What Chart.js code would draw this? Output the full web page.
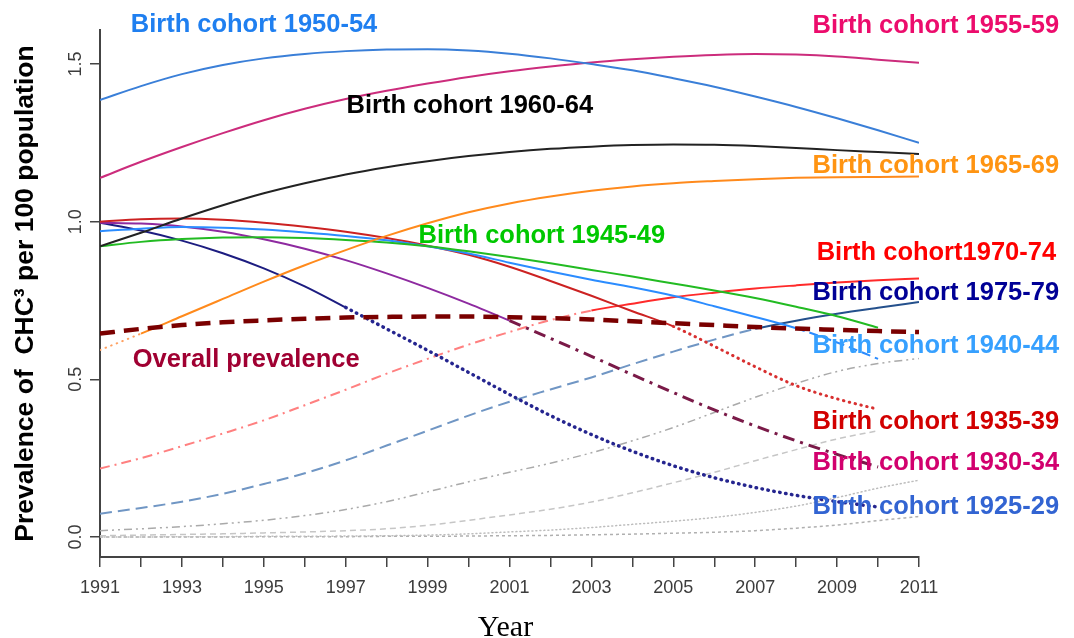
<!DOCTYPE html>
<html>
<head>
<meta charset="utf-8">
<script src="https://cdn.jsdelivr.net/npm/chart.js@4"></script>
<style>
  html, body { margin: 0; padding: 0; background: #fff; }
</style>
</head>
<body>
<canvas id="prevChart" width="1074" height="638"></canvas>
<script>
// years on the x axis
var years = [1991, 1992, 1993, 1994, 1995, 1996, 1997, 1998, 1999, 2000, 2001,
             2002, 2003, 2004, 2005, 2006, 2007, 2008, 2009, 2010, 2011];
var yTicks = [0, 0.5, 1.0, 1.5];

// prevalence per 100 population
var overall    = [0.645, 0.660, 0.672, 0.681, 0.687, 0.692, 0.696, 0.698, 0.699, 0.699, 0.697, 0.694, 0.690, 0.684, 0.678, 0.672, 0.666, 0.661, 0.657, 0.653, 0.650];
var cohort1950 = [1.386, 1.430, 1.468, 1.497, 1.518, 1.532, 1.541, 1.546, 1.547, 1.543, 1.533, 1.518, 1.500, 1.480, 1.455, 1.428, 1.397, 1.364, 1.328, 1.290, 1.250];
var cohort1955 = [1.139, 1.190, 1.237, 1.281, 1.322, 1.358, 1.389, 1.415, 1.438, 1.459, 1.477, 1.492, 1.505, 1.515, 1.523, 1.529, 1.532, 1.530, 1.524, 1.514, 1.504];
var cohort1960 = [0.922, 0.965, 1.010, 1.052, 1.090, 1.122, 1.150, 1.173, 1.192, 1.208, 1.221, 1.231, 1.238, 1.243, 1.245, 1.244, 1.240, 1.234, 1.227, 1.221, 1.215];
var cohort1965 = [0.593, 0.645, 0.700, 0.755, 0.810, 0.862, 0.910, 0.955, 0.995, 1.030, 1.058, 1.080, 1.098, 1.112, 1.122, 1.129, 1.135, 1.139, 1.141, 1.142, 1.143];
var cohort1945 = [0.922, 0.936, 0.945, 0.950, 0.951, 0.948, 0.942, 0.934, 0.922, 0.906, 0.888, 0.868, 0.847, 0.826, 0.804, 0.782, 0.758, 0.730, 0.700, 0.664, null];
var cohort1940 = [0.970, 0.978, 0.983, 0.981, 0.975, 0.966, 0.955, 0.941, 0.922, 0.899, 0.870, 0.842, 0.816, 0.792, 0.765, 0.732, 0.698, 0.662, 0.617, 0.565, null];
var cohort1935 = [1.000, 1.008, 1.010, 1.006, 0.997, 0.984, 0.968, 0.948, 0.924, 0.895, 0.857, 0.812, 0.765, 0.716, 0.668, 0.605, 0.540, 0.480, 0.438, 0.405, null];
var cohort1930 = [0.997, 0.994, 0.985, 0.968, 0.944, 0.914, 0.878, 0.836, 0.790, 0.740, 0.686, 0.630, 0.573, 0.515, 0.458, 0.403, 0.352, 0.305, 0.262, 0.222, null];
var cohort1925 = [0.997, 0.972, 0.940, 0.900, 0.852, 0.795, 0.728, 0.660, 0.592, 0.522, 0.452, 0.385, 0.325, 0.272, 0.226, 0.188, 0.157, 0.132, 0.112, 0.095, null];
var cohort1970 = [0.217, 0.250, 0.288, 0.328, 0.370, 0.418, 0.467, 0.518, 0.565, 0.610, 0.650, 0.688, 0.718, 0.740, 0.760, 0.775, 0.788, 0.798, 0.807, 0.814, 0.820];
var cohort1975 = [0.074, 0.092, 0.112, 0.137, 0.168, 0.202, 0.243, 0.290, 0.337, 0.385, 0.429, 0.468, 0.506, 0.548, 0.588, 0.626, 0.660, 0.686, 0.708, 0.727, 0.745];
var cohortG1   = [0.020, 0.026, 0.033, 0.042, 0.053, 0.068, 0.087, 0.112, 0.143, 0.175, 0.205, 0.234, 0.267, 0.305, 0.347, 0.395, 0.443, 0.487, 0.525, 0.550, 0.566];
var cohortG2   = [0.004, 0.006, 0.008, 0.010, 0.013, 0.016, 0.020, 0.026, 0.037, 0.053, 0.070, 0.088, 0.111, 0.140, 0.172, 0.205, 0.242, 0.277, 0.311, 0.337, null];
var cohortG3   = [0.000, 0.000, 0.001, 0.001, 0.002, 0.002, 0.003, 0.004, 0.006, 0.010, 0.016, 0.022, 0.030, 0.040, 0.050, 0.062, 0.078, 0.098, 0.125, 0.155, 0.180];
var cohortG4   = [0.000, 0.000, 0.000, 0.000, 0.001, 0.001, 0.001, 0.002, 0.002, 0.003, 0.004, 0.005, 0.007, 0.009, 0.012, 0.015, 0.020, 0.028, 0.038, 0.052, 0.065];

// text annotations, placed in data units
var notes = [
  { text: 'Birth cohort 1950-54', x: 1991.75, y: 1.602, color: '#1f7ff0' },
  { text: 'Birth cohort 1955-59', x: 2008.40, y: 1.599, color: '#ec0c6c' },
  { text: 'Birth cohort 1960-64', x: 1997.02, y: 1.345, color: '#000000' },
  { text: 'Birth cohort 1965-69', x: 2008.40, y: 1.153, color: '#ff9412' },
  { text: 'Birth cohort 1945-49', x: 1998.78, y: 0.931, color: '#00c800' },
  { text: 'Birth cohort1970-74',  x: 2008.50, y: 0.878, color: '#ff0000' },
  { text: 'Birth cohort 1975-79', x: 2008.40, y: 0.751, color: '#000096' },
  { text: 'Birth cohort 1940-44', x: 2008.40, y: 0.582, color: '#36a0ff' },
  { text: 'Birth cohort 1935-39', x: 2008.40, y: 0.344, color: '#d20000' },
  { text: 'Birth cohort 1930-34', x: 2008.40, y: 0.214, color: '#d2006e' },
  { text: 'Birth cohort 1925-29', x: 2008.40, y: 0.072, color: '#3264d2' },
  { text: 'Overall prevalence',   x: 1991.80, y: 0.540, color: '#a00032' }
];

function pts(arr) {
  return years.map(function (yr, i) { return { x: yr, y: arr[i] }; });
}

var DOT = [0.5, 5.5];

// a series that changes style at index k
function series(arr, w, a, b, k) {
  var ds = {
    data: pts(arr),
    borderColor: a.color,
    borderWidth: w,
    borderDash: a.dash || [],
    borderCapStyle: a.cap || 'butt',
    pointRadius: 0,
    fill: false,
    cubicInterpolationMode: 'monotone',
    spanGaps: false
  };
  if (b) {
    ds.segment = {
      borderColor: function (c) { return c.p0DataIndex >= k ? b.color : a.color; },
      borderDash: function (c) { return c.p0DataIndex >= k ? (b.dash || []) : (a.dash || []); },
      borderCapStyle: function (c) { return c.p0DataIndex >= k ? (b.cap || 'butt') : (a.cap || 'butt'); },
      borderWidth: function (c) { return c.p0DataIndex >= k ? (b.width || w) : w; }
    };
  }
  return ds;
}

var datasets = [
  series(overall, 4.5, { color: '#7a0000', dash: [15, 9] }),
  series(cohort1950, 2, { color: '#3a7fd8' }),
  series(cohort1955, 2, { color: '#cc2c7c' }),
  series(cohort1960, 2, { color: '#222222' }),
  series(cohort1965, 2, { color: '#ffa060', dash: DOT, cap: 'round' }, { color: '#ff8a1c' }, 1),
  series(cohort1945, 2, { color: '#22bb22' }),
  series(cohort1940, 2, { color: '#2b8cff' }, { color: '#2b8cff', dash: [9, 5] }, 17),
  series(cohort1935, 2, { color: '#cc2222' }, { color: '#d83030', dash: DOT, cap: 'round', width: 3 }, 14),
  series(cohort1930, 2, { color: '#8e2aa0' }, { color: '#7a1a48', dash: [12, 6, 3, 6], width: 3 }, 10),
  series(cohort1925, 2, { color: '#1c1c80' }, { color: '#25258f', dash: DOT, cap: 'round', width: 3.5 }, 6),
  series(cohort1970, 2, { color: '#ff8080', dash: [10, 5, 2, 5] }, { color: '#ff2a2a' }, 12),
  series(cohort1975, 2, { color: '#7096c4', dash: [12, 6] }, { color: '#24508c' }, 16),
  series(cohortG1, 1.5, { color: '#aaaaaa', dash: [8, 4, 2, 4, 2, 4] }),
  series(cohortG2, 1.5, { color: '#c6c6c6', dash: [6, 4] }),
  series(cohortG3, 1.5, { color: '#bdbdbd', dash: [1, 3], cap: 'round' }),
  series(cohortG4, 1.5, { color: '#b0b0b0', dash: [3, 3] })
];

var textLayer = {
  id: 'textLayer',
  afterDraw: function (chart) {
    var ctx = chart.ctx, xs = chart.scales.x, ys = chart.scales.y;
    ctx.save();
    // rotated y tick labels
    ctx.fillStyle = '#3c3c3c';
    ctx.font = '18px "Liberation Sans", Arial, sans-serif';
    ctx.textAlign = 'center';
    ctx.textBaseline = 'middle';
    yTicks.forEach(function (v) {
      ctx.save();
      ctx.translate(xs.left - 24, ys.getPixelForValue(v));
      ctx.rotate(-Math.PI / 2);
      ctx.fillText(v.toFixed(1), 0, 0);
      ctx.restore();
    });
    // y axis title
    ctx.save();
    ctx.fillStyle = '#000';
    ctx.font = 'bold 26.5px "Liberation Sans", Arial, sans-serif';
    ctx.translate(26, (ys.top + ys.bottom) / 2);
    ctx.rotate(-Math.PI / 2);
    ctx.fillText('Prevalence of  CHC\u00b3 per 100 population', 0, 0);
    ctx.restore();
    // x axis title
    ctx.font = '30px "Liberation Serif", "Times New Roman", serif';
    ctx.fillStyle = '#000';
    ctx.textBaseline = 'alphabetic';
    ctx.fillText('Year', (xs.left + xs.right) / 2 - 4, 636);
    // cohort labels
    ctx.textAlign = 'left';
    ctx.font = 'bold 25.5px "Liberation Sans", Arial, sans-serif';
    notes.forEach(function (n) {
      ctx.fillStyle = n.color;
      ctx.fillText(n.text, xs.getPixelForValue(n.x), ys.getPixelForValue(n.y));
    });
    ctx.restore();
  }
};

var myChart = new Chart(document.getElementById('prevChart').getContext('2d'), {
  type: 'line',
  data: { datasets: datasets },
  options: {
    responsive: false,
    animation: false,
    layout: { padding: { left: 0, right: 155, top: 30, bottom: 0 } },
    plugins: { legend: { display: false }, tooltip: { enabled: false } },
    scales: {
      x: {
        type: 'linear',
        min: 1991,
        max: 2011,
        afterFit: function (s) { s.height = 81; },
        grid: { drawOnChartArea: false, drawTicks: true, tickLength: 10, color: '#444', lineWidth: 1.5 },
        border: { display: true, color: '#444', width: 2 },
        ticks: {
          stepSize: 1,
          autoSkip: false,
          maxRotation: 0,
          padding: 10,
          color: '#3c3c3c',
          font: { family: 'Liberation Sans', size: 18 },
          callback: function (v) { return (v - 1991) % 2 === 0 ? String(v) : ''; }
        }
      },
      y: {
        min: -0.0635,
        max: 1.608,
        afterFit: function (s) { s.width = 100; },
        grid: { drawOnChartArea: false, drawTicks: true, tickLength: 10, color: '#444', lineWidth: 1.5 },
        border: { display: true, color: '#444', width: 2 },
        ticks: { display: false, stepSize: 0.5, includeBounds: false }
      }
    }
  },
  plugins: [textLayer]
});
</script>
</body>
</html>
